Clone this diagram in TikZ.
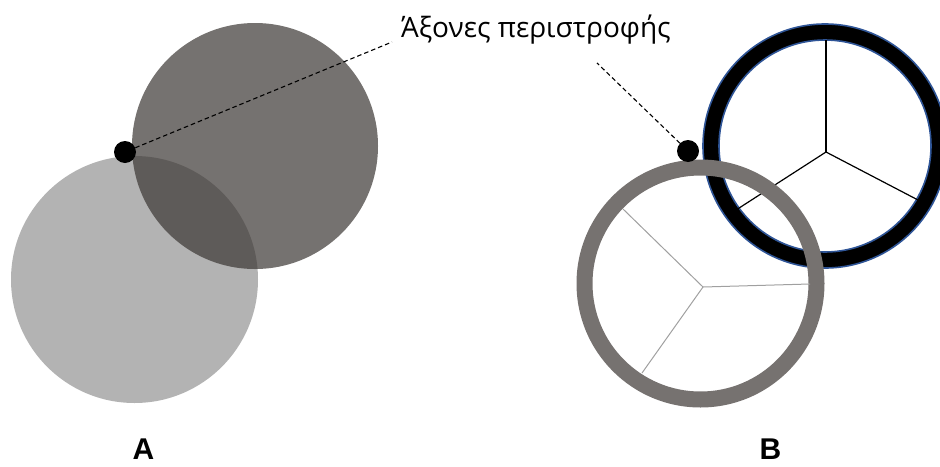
\documentclass[tikz,border=0pt]{standalone}
\usepackage{fontspec}
\setmainfont{Open Sans}
\newfontfamily\labelfont{Liberation Sans}
\usepackage{xcolor}
\usepackage{tikz}
\definecolor{discdark}{RGB}{59,54,51}
\definecolor{disclight}{RGB}{179,179,179}
\definecolor{ringgray}{RGB}{118,114,112}
\definecolor{ringblue}{RGB}{47,85,151}
\definecolor{spokegray}{RGB}{160,160,160}
\tikzset{
  pivot/.style={circle, fill=black, inner sep=0pt, minimum size=22pt},
  leader/.style={dash pattern=on 4.5pt off 3pt, line width=1.1pt},
  panel/.style={font=\labelfont\bfseries\fontsize{30}{30}\selectfont, anchor=base, inner sep=0pt},
}

\begin{document}
\begin{tikzpicture}[x=1pt,y=-1pt]
\useasboundingbox (0,0) rectangle (940,466);
\fill[disclight] (134.5,279.5) circle (123.5);
\fill[discdark, fill opacity=0.7] (255,146) circle (123);
\node[pivot] (pivA) at (125,152) {};
\coordinate (endA) at (392,42);
\draw[leader] (pivA) -- (endA);
\node[anchor=base west, inner sep=0pt, font=\fontsize{28}{28}\selectfont] (axes) at (401,37) {Άξονες περιστροφής};

\filldraw[fill=black, draw=ringblue, line width=1.6pt, even odd rule] (825,146) circle (122) (825,146) circle (106);
\coordinate (hubB) at (826,152);
\draw[line width=1.2pt] (hubB) -- (826,40);
\draw[line width=1.2pt] (hubB) -- (736,210);
\draw[line width=1.2pt] (hubB) -- (918,200);
\fill[ringgray, even odd rule] (700.5,283.5) circle (124) (700.5,283.5) circle (108);
\coordinate (hubG) at (703,287);
\draw[spokegray, line width=1pt] (hubG) -- (623,209);
\draw[spokegray, line width=1pt] (hubG) -- (810,284);
\draw[spokegray, line width=1pt] (hubG) -- (642,373);
\node[pivot] (pivB) at (688,151) {};
\coordinate (endB) at (597,63);
\draw[leader] (pivB) -- (endB);

\node[panel] (labA) at (143.5,459) {A};
\node[panel] (labB) at (770.5,459) {B};
\end{tikzpicture}
\end{document}
